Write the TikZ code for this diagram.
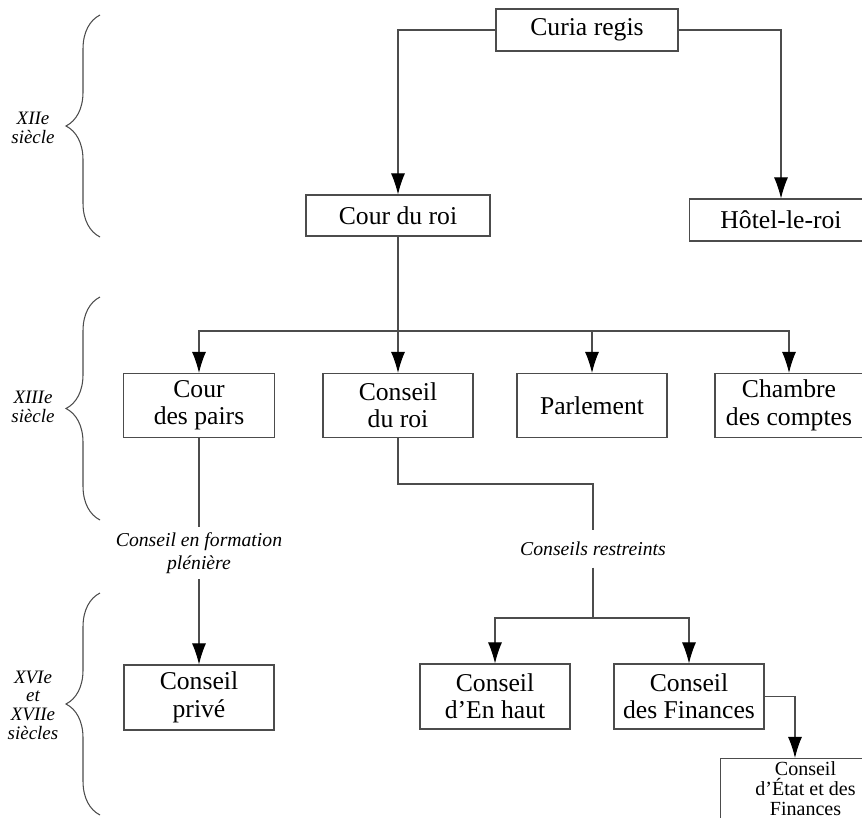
\documentclass[tikz,border=0pt]{standalone}
\usepackage{fontspec}
\setmainfont{Liberation Serif}
\usetikzlibrary{arrows.meta}
\usetikzlibrary{decorations.pathreplacing}
\usetikzlibrary{positioning}

\tikzset{
	box/.style={draw=black!70,line width=0.6pt,align=center,inner sep=2pt,
		minimum width=3cm,minimum height=1.28cm,font=\fontsize{14.6}{15.6}\selectfont},
	note/.style={align=center,inner xsep=2pt,font=\itshape\fontsize{11.2}{13}\selectfont},
	era/.style={align=center,inner sep=1pt,font=\itshape\fontsize{10.8}{10.6}\selectfont},
	link/.style={draw=black!70,line width=0.6pt},
	epoch/.style={draw=black!70,line width=0.6pt,decorate,decoration={brace,amplitude=0.68cm}}
}

\begin{document}
\begin{tikzpicture}[x=0.02cm,y=-0.02cm,>={Latex[length=12pt,width=8pt,color=black]}]
	\useasboundingbox (0,0) rectangle (862,818);
	%
	\node[box,minimum width=3.64cm,minimum height=0.84cm] (Curia) at (587,30) {Curia regis};
	\node[box,minimum width=3.68cm,minimum height=0.82cm] (Cour) at (398,215.5) {Cour du roi};
	\node[box,minimum width=3.68cm,minimum height=0.84cm] (Hotel) at (781,220) {Hôtel-le-roi};
	%
	\node[box,minimum width=3.02cm] (Pairs) at (199,405.5) {Cour\\des pairs};
	\node[box] (Conseil) at (398,405.5) {Conseil\\du roi};
	\node[box] (Parl) at (592,405.5) {Parlement};
	\node[box,minimum width=2.96cm] (Chambre) at (789,405.5) {Chambre\\des comptes};
	%
	\node[note,inner ysep=3pt] (Plen) at (199,553) {Conseil en formation\\plénière};
	\node[note,inner ysep=6.5pt] (Restr) at (593,549) {Conseils restreints};
	%
	\node[box,minimum height=1.3cm] (Prive) at (199,697.5) {Conseil\\privé};
	\node[box,minimum height=1.3cm] (Haut) at (495,696.5) {Conseil\\d’En haut};
	\node[box,minimum height=1.3cm] (Fin) at (689,696.5) {Conseil\\des Finances};
	\node[box,anchor=north west,minimum width=3.4cm,minimum height=1.2cm,inner sep=1pt,
		font=\fontsize{11.4}{11.6}\selectfont] (Etat) at (720,758) {Conseil\\d’État et des\\Finances};
	%
	\node[era] (E12) at (33,128) {XIIe\\siècle};
	\node[era] (E13) at (33,407) {XIIIe\\siècle};
	\node[era] (E16) at (33,705) {XVIe\\et\\XVIIe\\siècles};
	%
	\coordinate (split) at (398,331);
	\coordinate (fork) at (593,618);
	%
	\draw[link,->] (Curia.west) -| (Cour.north);
	\draw[link,->] (Curia.east) -| (Hotel.north);
	\path (Cour) edge[link,->] (Conseil);
	\draw[link,->] (split) -| (Pairs.north);
	\draw[link,->] (split) -| (Parl.north);
	\draw[link,->] (split) -| (Chambre.north);
	%
	\path (Pairs) edge[link] (Plen);
	\path (Plen) edge[link,->] (Prive);
	\draw[link] (Conseil.south) -- ++(0,46) -| (Restr.north);
	\draw[link] (Restr.south) -- (fork);
	\draw[link,->] (fork) -| (Haut.north);
	\draw[link,->] (fork) -| (Fin.north);
	\draw[link,->] (Fin.east) -| ([xshift=1.5cm]Etat.north west);
	%
	\draw[epoch] (100,237) -- (100,15);
	\draw[epoch] (100,520) -- (100,297);
	\draw[epoch] (100,815) -- (100,593);
\end{tikzpicture}
\end{document}
